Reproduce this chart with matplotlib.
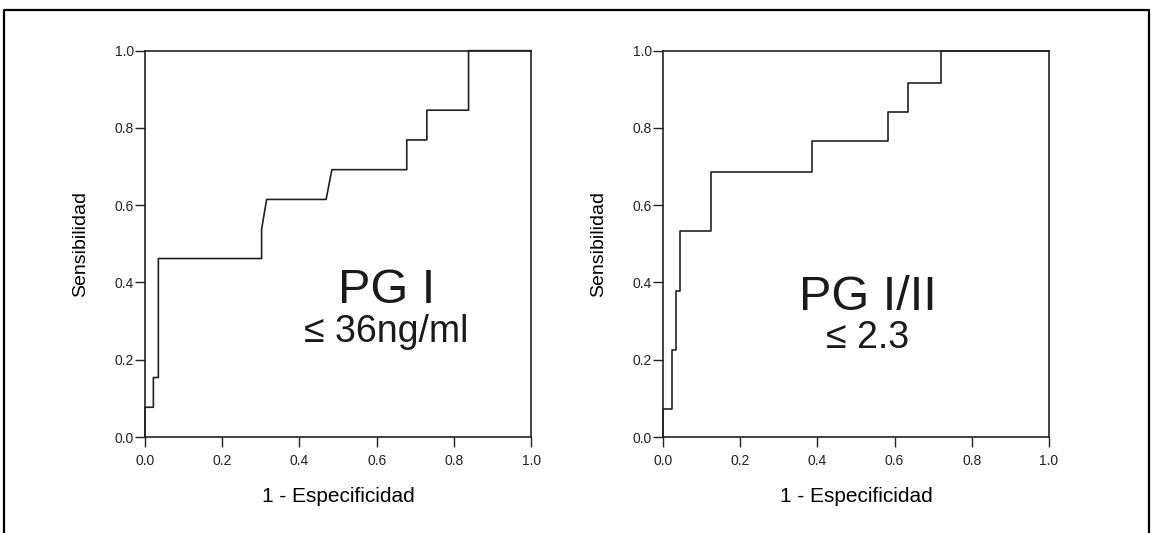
import matplotlib
matplotlib.use("Agg")
import matplotlib.pyplot as plt
from matplotlib.lines import Line2D

plt.rcParams['font.family'] = ['Liberation Sans', 'DejaVu Sans']

# Curva ROC PG I (escalones)
fpr_pg1 = [0.0, 0.0, 0.0216, 0.0216, 0.0345, 0.0345, 0.302, 0.302, 0.315, 0.469, 0.484, 0.678, 0.678, 0.730, 0.730, 0.838, 0.838, 1.0]
sens_pg1 = [0.0, 0.077, 0.077, 0.154, 0.154, 0.462, 0.462, 0.538, 0.615, 0.615, 0.692, 0.692, 0.769, 0.769, 0.846, 0.846, 1.0, 1.0]

# Curva ROC PG I/II
fpr_ratio = [0.0, 0.0, 0.0225, 0.0225, 0.034, 0.034, 0.045, 0.045, 0.125, 0.125, 0.387, 0.387, 0.583, 0.583, 0.636, 0.636, 0.720, 0.720, 1.0]
sens_ratio = [0.0, 0.072, 0.072, 0.226, 0.226, 0.379, 0.379, 0.532, 0.532, 0.687, 0.687, 0.765, 0.765, 0.842, 0.842, 0.917, 0.917, 1.0, 1.0]

ticks = [0.0, 0.2, 0.4, 0.6, 0.8, 1.0]
tick_labels = ["0.0", "0.2", "0.4", "0.6", "0.8", "1.0"]

titulos = ["PG I", "PG I/II"]
cortes = ["\u2264 36ng/ml", "\u2264 2.3"]

fig = plt.figure(figsize=(11.52, 5.33), dpi=100)

# marco exterior (sin borde inferior)
fig.add_artist(Line2D([0.0035, 0.0035, 0.9975, 0.9975], [0.0, 0.981, 0.981, 0.0],
                      transform=fig.transFigure, color='black', lw=1.6))

ax1 = fig.add_axes([0.1259, 0.1801, 0.3351, 0.7248])
ax2 = fig.add_axes([0.5755, 0.1801, 0.3351, 0.7248])

curvas = [(fpr_pg1, sens_pg1), (fpr_ratio, sens_ratio)]
pos_texto = [(0.626, 0.346, 0.624, 0.247), (0.532, 0.329, 0.530, 0.230)]

for i, ax in enumerate([ax1, ax2]):
    x, y = curvas[i]
    ax.plot(x, y, color='#222222', lw=1.2, clip_on=False)
    ax.set_xlim(0, 1)
    ax.set_ylim(0, 1)
    ax.set_xticks(ticks)
    ax.set_yticks(ticks)
    ax.set_xticklabels(tick_labels)
    ax.set_yticklabels(tick_labels)
    ax.tick_params(direction='out', length=7, width=1.0, labelsize=10, colors='#222222')
    ax.yaxis.set_tick_params(pad=1)
    ax.xaxis.set_tick_params(pad=5)
    for s in ax.spines.values():
        s.set_linewidth(1.2)
        s.set_color('#222222')
    ax.set_xlabel("1 - Especificidad", fontsize=15, labelpad=14)
    ax.set_ylabel("Sensibilidad", fontsize=14, labelpad=18)
    tx, ty, sx, sy = pos_texto[i]
    ax.text(tx, ty, titulos[i], fontsize=35, ha='center', va='baseline', color='#1a1a1a')
    ax.text(sx, sy, cortes[i], fontsize=27, ha='center', va='baseline', color='#1a1a1a')

fig.savefig("out.png", dpi=100)
